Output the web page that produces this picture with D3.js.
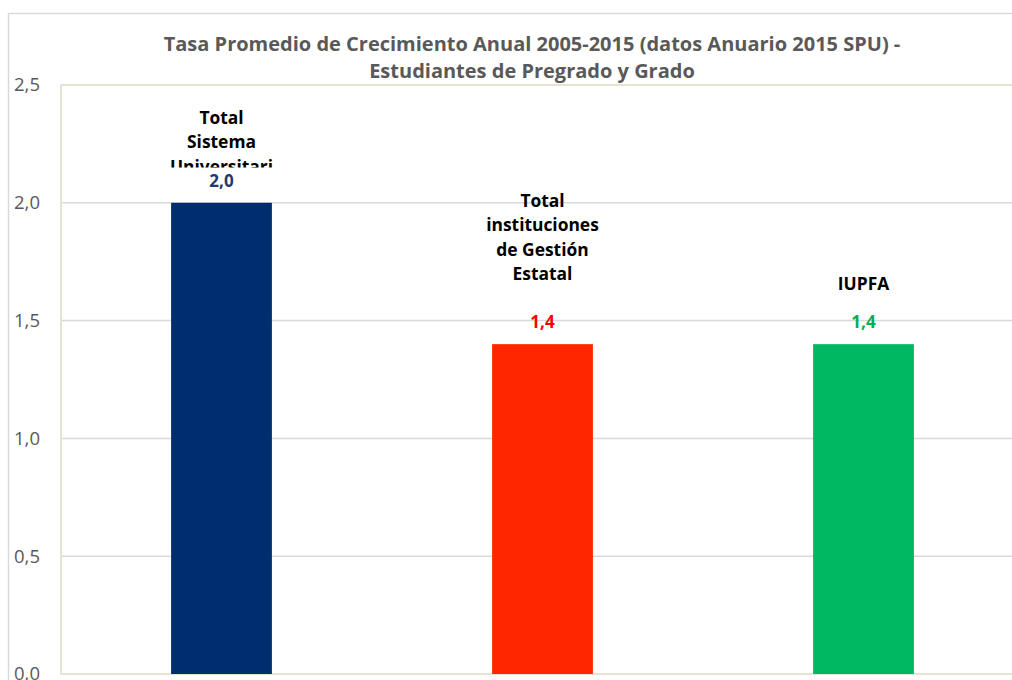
<!DOCTYPE html>
<html><head><meta charset="utf-8">
<script src="https://cdn.jsdelivr.net/npm/d3@7"></script>
<style>html,body{margin:0;padding:0;background:#fff;overflow:hidden}</style>
</head><body>
<svg id="c" width="1012" height="680"></svg>
<script>
const categories = ["Total Sistema Universitario", "Total instituciones de Gestión Estatal", "IUPFA"];
const labelLines = [["Total","Sistema","Universitari"],["Total","instituciones","de Gestión","Estatal"],["IUPFA"]];
const values = [2.0, 1.4, 1.4];
const barColors = ["#002D6E", "#FF2600", "#00B862"];
const valueColors = ["#1F3A73", "#FF0000", "#00B050"];
const yTicks = [0, 0.5, 1.0, 1.5, 2.0, 2.5];
const titleLines = ["Tasa Promedio de Crecimiento Anual 2005-2015 (datos Anuario 2015 SPU) -", "Estudiantes de Pregrado y Grado"];

const svg = d3.select("#c");
const font = "'Open Sans', sans-serif";
const fmt = v => d3.format(".1f")(v).replace(".", ",");

// outer chart border
svg.append("rect").attr("x", 8.5).attr("y", 13.5).attr("width", 1100).attr("height", 700)
  .attr("fill", "#fff").attr("stroke", "#d9d9d9").attr("stroke-width", 1.5);

const m = {left: 61, top: 85, right: 1024, bottom: 674};
const x = d3.scaleBand().domain(categories).range([m.left, m.right]).paddingInner(0.686).paddingOuter(0.343);
const y = d3.scaleLinear().domain([0, 2.5]).range([m.bottom, m.top]);

// gridlines
svg.append("g").selectAll("line").data(yTicks.filter(t => t > 0 && t < 2.5)).join("line")
  .attr("x1", m.left).attr("x2", m.right).attr("y1", d => y(d)).attr("y2", d => y(d))
  .attr("stroke", "#d9d9d9").attr("stroke-width", 1.5);

// plot area border
svg.append("rect").attr("x", m.left).attr("y", m.top).attr("width", m.right - m.left).attr("height", m.bottom - m.top)
  .attr("fill", "none").attr("stroke", "#e6e2d6").attr("stroke-width", 2);

// y axis
const yAxis = d3.axisLeft(y).tickValues(yTicks).tickFormat(fmt).tickSize(0).tickPadding(21);
const ga = svg.append("g").attr("transform", `translate(${m.left},0)`).call(yAxis);
ga.select(".domain").remove();
ga.selectAll("text").attr("font-family", font).attr("font-size", 18.5).attr("fill", "#595959");

// bars
svg.append("g").selectAll("rect").data(values).join("rect")
  .attr("x", (d, i) => x(categories[i])).attr("width", x.bandwidth())
  .attr("y", d => y(d)).attr("height", d => y(0) - y(d))
  .attr("fill", (d, i) => barColors[i]);

// value labels
svg.append("g").selectAll("text").data(values).join("text")
  .attr("x", (d, i) => x(categories[i]) + x.bandwidth() / 2)
  .attr("y", d => y(d) - 16)
  .attr("text-anchor", "middle").attr("font-family", font).attr("font-weight", "bold")
  .attr("font-size", 17).attr("fill", (d, i) => valueColors[i]).text(fmt);

// category labels (text boxes above bars)
const lastLineOffset = [36, 70, 60];
const lineH = 24.5;
svg.append("defs").append("clipPath").attr("id", "clip1").append("rect")
  .attr("x", 100).attr("y", 90).attr("width", 250).attr("height", 77.5);
categories.forEach((c, i) => {
  const cx = x(c) + x.bandwidth() / 2;
  const lines = labelLines[i];
  const baseY = y(values[i]) - lastLineOffset[i];
  const g = svg.append("g");
  if (i === 0) g.attr("clip-path", "url(#clip1)");
  g.selectAll("text").data(lines).join("text")
    .attr("x", cx).attr("y", (d, j) => baseY - (lines.length - 1 - j) * lineH)
    .attr("dy", "0.35em").attr("text-anchor", "middle")
    .attr("font-family", font).attr("font-weight", "bold").attr("font-size", 17.4).attr("fill", "#000")
    .text(d => d);
});

// title
svg.append("g").selectAll("text").data(titleLines).join("text")
  .attr("x", 532).attr("y", (d, i) => 51 + i * 27)
  .attr("text-anchor", "middle").attr("font-family", font).attr("font-weight", "bold")
  .attr("font-size", 20).attr("fill", "#595959").text(d => d);
</script>
</body></html>
